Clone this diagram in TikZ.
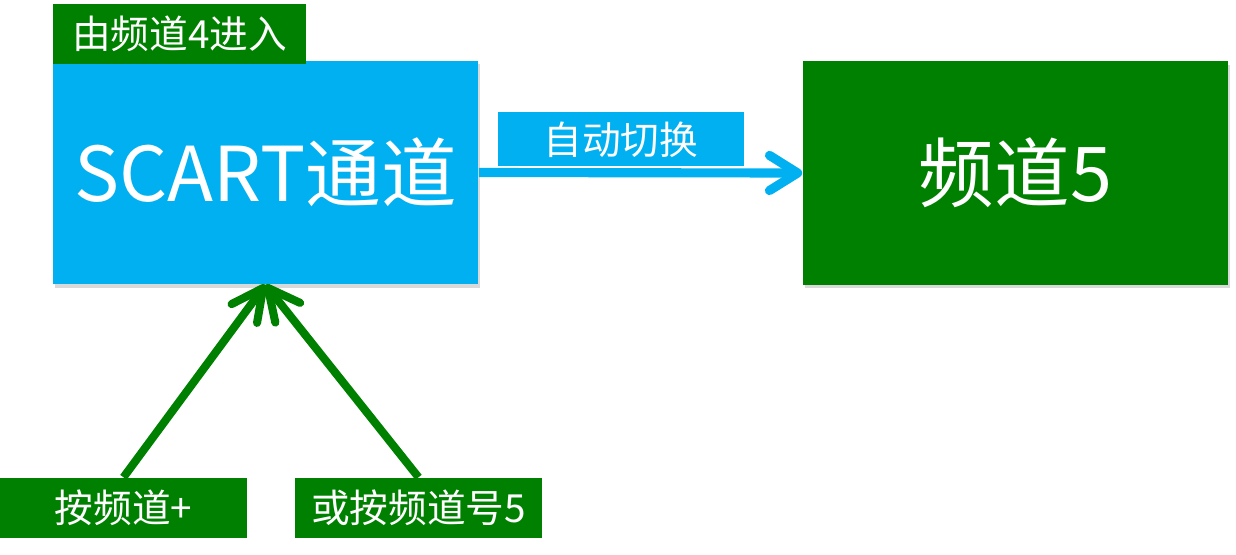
\documentclass[tikz,border=0pt]{standalone}
\usepackage{fontspec}
\setmainfont{Noto Sans CJK SC}
\usetikzlibrary{positioning}
\usetikzlibrary{arrows.meta}
\usetikzlibrary{shadows}
\definecolor{scartblue}{HTML}{00B0F0}
\definecolor{chgreen}{HTML}{008000}
\tikzset{
    bigbox/.style={minimum width=4.25cm, minimum height=2.23cm, inner sep=0pt, text=white,
        font=\fontsize{21.5}{25}\selectfont,
        drop shadow={shadow xshift=0.6pt, shadow yshift=-1pt, opacity=0.15, fill=black}},
    tagbox/.style={minimum width=2.47cm, minimum height=0.6cm, inner sep=0pt, text=white,
        font=\fontsize{11}{13}\selectfont},
    switchflow/.style={draw=scartblue, line width=2.6pt, -{Straight Barb[length=8pt, width=10pt, round]}},
    keyflow/.style={draw=chgreen, line width=2.3pt, -{Straight Barb[length=9pt, width=9pt, round]}}
}

\begin{document}
\begin{tikzpicture}[x=0.01cm, y=-0.01cm]
    \useasboundingbox (0,0) rectangle (1236,554);
    % boxes
    \node [bigbox, fill=scartblue] (scart) at (265.5,172.5) {SCART通道};
    \node [bigbox, fill=chgreen] (ch5) at (1015.5,173) {频道5};
    \node [tagbox, fill=chgreen, minimum width=2.53cm, anchor=south west] (enter) at ([yshift=-0.04cm]scart.north west) {由频道4进入};
    % keys
    \node [tagbox, fill=chgreen] (plus) at (123.5,508) {按频道+};
    \node [tagbox, fill=chgreen] (number) at (418.5,508) {或按频道号5};
    % arrows
    \draw [switchflow] (scart.east) -- (ch5.west);
    \node [tagbox, fill=scartblue, minimum width=2.46cm, minimum height=0.54cm, anchor=south west] (auto) at (497,167) {自动切换};
    \draw [keyflow] (plus.north) -- (scart.south);
    \draw [keyflow] (number.north) -- (scart.south);
\end{tikzpicture}
\end{document}
